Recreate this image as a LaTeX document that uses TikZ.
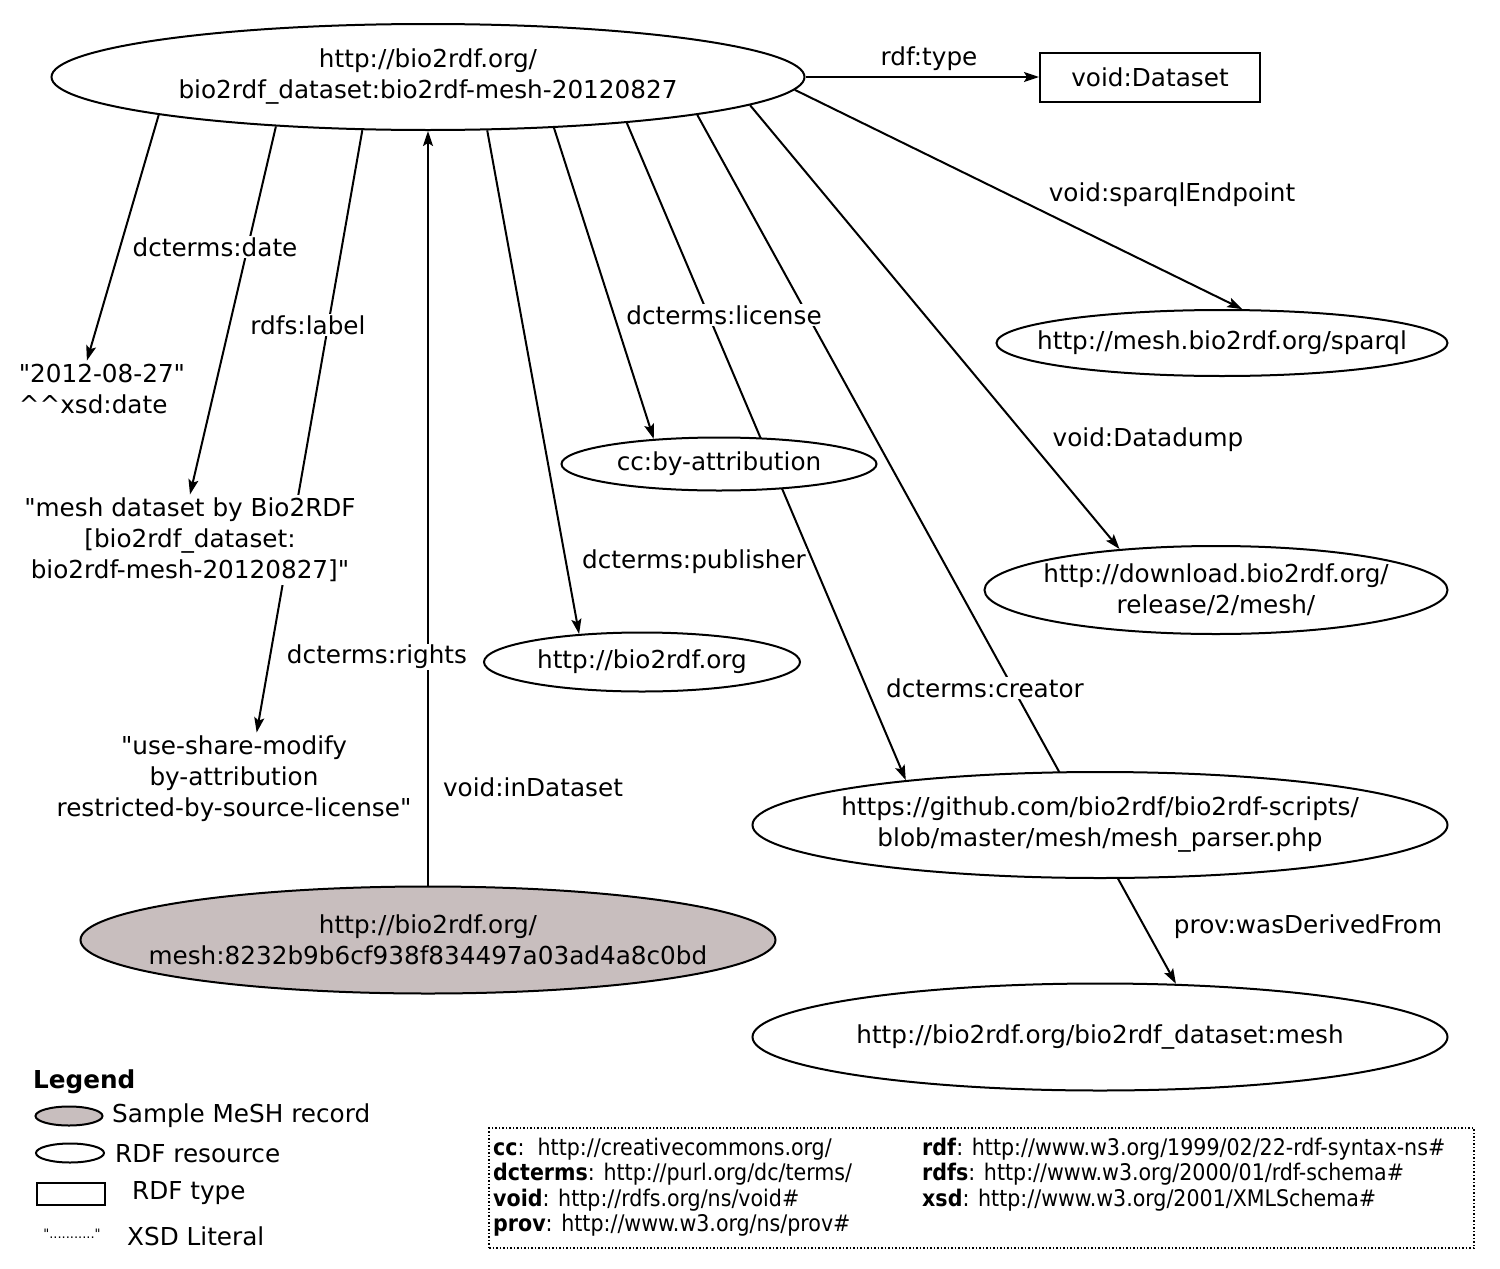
\documentclass[tikz,border=0pt]{standalone}
\usepackage{fontspec}
\setmainfont{DejaVu Sans}[Ligatures=TeXOff]
\newfontfamily\condfont{DejaVu Sans Condensed}[Ligatures=TeXOff]
\usetikzlibrary{shapes.geometric,arrows.meta,backgrounds}
\definecolor{recordgray}{RGB}{200,190,190}
\newcommand{\diagfont}{\fontsize{24.7}{31}\selectfont}
\newcommand{\nsfont}{\condfont\fontsize{22.9}{25.2}\selectfont}
\tikzset{
  res/.style={ellipse, draw, line width=2pt, fill=white, inner xsep=-60pt, inner ysep=0pt, align=center},
  lit/.style={fill=white, align=center},
  prop/.style={fill=white, inner sep=1pt},
  rel/.style={line width=2pt, -{Stealth[length=15pt,width=10pt,inset=3pt]}},
}

\begin{document}
\begin{tikzpicture}[x=1pt, y=-1pt, font=\diagfont]
  \useasboundingbox (0,0) rectangle (1500,1269);
  \node[res, minimum width=753pt, minimum height=106pt] (ds) at (428,77) {http://bio2rdf.org/\\bio2rdf\_dataset:bio2rdf-mesh-20120827};
  \node[draw, line width=2pt, minimum width=220pt, minimum height=49pt] (dtype) at (1150,77) {void:Dataset};
  \node[res, minimum width=451pt, minimum height=66pt] (sparql) at (1222,343) {http://mesh.bio2rdf.org/sparql};
  \node[res, minimum width=463pt, minimum height=88pt] (dump) at (1216,590) {http://download.bio2rdf.org/\\release/2/mesh/};
  \node[res, minimum width=315pt, minimum height=53pt] (cc) at (719,464) {cc:by-attribution};
  \node[res, minimum width=316pt, minimum height=59pt] (org) at (642,662) {http://bio2rdf.org};
  \node[res, minimum width=695pt, minimum height=106pt] (script) at (1100,825) {https://github.com/bio2rdf/bio2rdf-scripts/\\blob/master/mesh/mesh\_parser.php};
  \node[res, minimum width=695pt, minimum height=107pt] (mesh) at (1100,1037) {http://bio2rdf.org/bio2rdf\_dataset:mesh};
  \node[res, fill=recordgray, minimum width=695pt, minimum height=107pt] (record) at (428,940) {http://bio2rdf.org/\\mesh:8232b9b6cf938f834497a03ad4a8c0bd};
  \node[lit, align=left] (date) at (102,389) {"2012-08-27"\\\textasciicircum\textasciicircum xsd:date};
  \node[lit] (label) at (190,540) {"mesh dataset by Bio2RDF\\{}[bio2rdf\_dataset:\\bio2rdf-mesh-20120827]"};
  \node[lit] (rights) at (234,779) {"use-share-modify\\by-attribution\\restricted-by-source-license"};

  \node[prop] (ltype) at (929,59) {rdf:type};
  \node[prop] (lsparql) at (1172,195) {void:sparqlEndpoint};
  \node[prop] (ldate) at (215,247) {dcterms:date};
  \node[prop] (llabel) at (308,325) {rdfs:label};
  \node[prop] (llicense) at (724,315) {dcterms:license};
  \node[prop] (ldump) at (1148,440) {void:Datadump};
  \node[prop] (lpublisher) at (694,562) {dcterms:publisher};
  \node[prop] (lrights) at (377,657) {dcterms:rights};
  \node[prop] (lcreator) at (985,688) {dcterms:creator};
  \node[prop] (linds) at (533,787) {void:inDataset};
  \node[prop] (lderived) at (1308,927) {prov:wasDerivedFrom};

  \begin{scope}[on background layer]
    \draw[rel] (ds.east) -- (dtype.west);
    \draw[rel] (ds.358) -- (sparql.59);
    \draw[rel] (ds.355) -- (dump.157);
    \draw[rel] (ds.188) -- (date.118);
    \draw[rel] (ds.198) -- (label.north);
    \draw[rel] (ds.219) -- (rights.64);
    \draw[rel] (record.north) -- (ds.south);
    \draw[rel] (ds.318) -- (org.156);
    \draw[rel] (ds.338) -- (cc.159);
    \draw[rel] (ds.347) -- (script.167);
    \draw[rel] (ds.352) -- (mesh.35);
  \end{scope}

  \node[anchor=west, inner sep=0pt, font=\diagfont\bfseries] (legend) at (33,1082) {Legend};
  \node[ellipse, draw, line width=2pt, fill=recordgray, minimum width=67pt, minimum height=19pt, inner sep=0pt] (keyrec) at (69,1116) {};
  \node[anchor=west, inner sep=0pt] (keyrectxt) at (112,1116) {Sample MeSH record};
  \node[ellipse, draw, line width=2pt, minimum width=68pt, minimum height=19pt, inner sep=0pt] (keyres) at (70,1153) {};
  \node[anchor=west, inner sep=0pt] (keyrestxt) at (115,1154) {RDF resource};
  \node[draw, line width=2pt, minimum width=68pt, minimum height=22pt, inner sep=0pt] (keytype) at (71,1194) {};
  \node[anchor=west, inner sep=0pt] (keytypetxt) at (132,1193) {RDF type};
  \node[inner sep=0pt, font=\fontsize{13}{15}\selectfont] (keylit) at (72,1234) {"..........."};
  \node[anchor=west, inner sep=0pt] (keylittxt) at (127,1236) {XSD Literal};

  \node[draw, dotted, line width=1.5pt, minimum width=985pt, minimum height=120pt] (nsbox) at (981.5,1188) {};
  \node[anchor=north west, align=left, inner sep=0pt, font=\nsfont] (nsleft) at (493,1138) {\textbf{cc}:\ \ http://creativecommons.org/\\\textbf{dcterms}: http://purl.org/dc/terms/\\\textbf{void}: http://rdfs.org/ns/void\#\\\textbf{prov}: http://www.w3.org/ns/prov\#};
  \node[anchor=north west, align=left, inner sep=0pt, font=\nsfont] (nsright) at (922,1138) {\textbf{rdf}: http://www.w3.org/1999/02/22-rdf-syntax-ns\#\\\textbf{rdfs}: http://www.w3.org/2000/01/rdf-schema\#\\\textbf{xsd}: http://www.w3.org/2001/XMLSchema\#};
\end{tikzpicture}
\end{document}
